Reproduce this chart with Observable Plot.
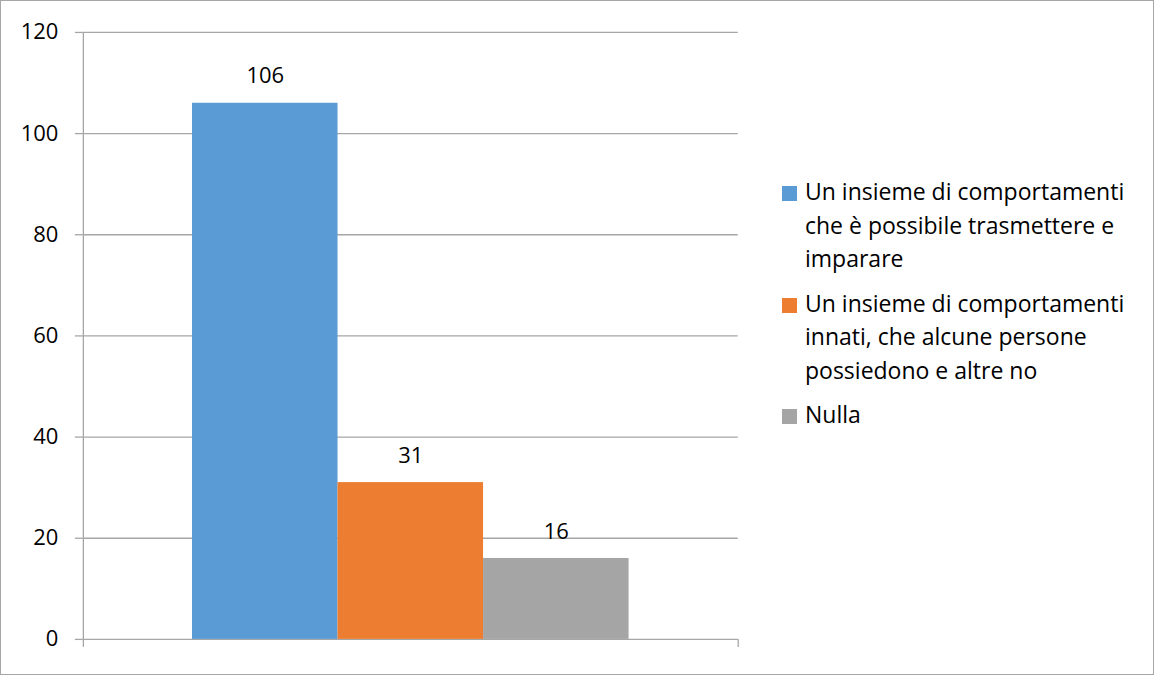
<!DOCTYPE html>
<html>
<head>
<meta charset="utf-8">
<script src="https://cdn.jsdelivr.net/npm/d3@7"></script>
<script src="https://cdn.jsdelivr.net/npm/@observablehq/plot@0.6"></script>
<style>
  body { margin: 0; background: #fff; }
  #chart { position: relative; width: 1152px; height: 673px; border: 1px solid #a6a6a6; overflow: hidden; font-family: "Open Sans", sans-serif; background:#fff; }
  #chart svg { position: absolute; left: -1px; top: -1px; }
  .legend { position: absolute; left: 781px; top: 174px; font-size: 23px; line-height: 33.5px; color: #000; }
  .item { display: flex; align-items: flex-start; margin-bottom: 11px; }
  .sw { width: 15px; height: 15px; margin-top: 11px; margin-right: 8px; flex: none; }
  .lbl { white-space: pre-line; }
</style>
</head>
<body>
<div id="chart"></div>
<script>
const series = [
  "Un insieme di comportamenti\nche è possibile trasmettere e\nimparare",
  "Un insieme di comportamenti\ninnati, che alcune persone\npossiedono e altre no",
  "Nulla"
];
const values = [106, 31, 16];
const colors = ["#5B9BD5", "#ED7D31", "#A5A5A5"];
const yTicks = [0, 20, 40, 60, 80, 100, 120];

const data = series.map((s, i) => ({ series: s, value: values[i], pos: i }));
const axisColor = "#a6a6a6";

const plot = Plot.plot({
  width: 1154,
  height: 675,
  marginLeft: 83,
  marginRight: 415,
  marginTop: 32,
  marginBottom: 35,
  style: { fontFamily: "'Open Sans', sans-serif", fontSize: "22px", color: "#000", background: "transparent" },
  x: { domain: [0, 4.5], axis: null },
  y: { domain: [0, 120], axis: null },
  color: { domain: series, range: colors },
  marks: [
    Plot.gridY(yTicks, { stroke: axisColor, strokeOpacity: 1, strokeWidth: 1.3 }),
    Plot.axisY({ ticks: yTicks, tickSize: 8, tickPadding: 17, stroke: axisColor, strokeWidth: 1.3, fill: "#000", fontSize: 22, label: null }),
    Plot.axisX({ ticks: [0, 4.5], tickSize: 8, tickFormat: () => "", stroke: axisColor, strokeWidth: 1.3, label: null }),
    Plot.ruleX([0], { y1: 0, y2: 120, stroke: axisColor, strokeWidth: 1.3 }),
    Plot.rectY(data, { x1: d => d.pos + 0.75, x2: d => d.pos + 1.75, y: "value", fill: "series" }),
    Plot.text(data, { x: d => d.pos + 1.25, y: "value", text: d => String(d.value), dy: -27, fontSize: 22, fill: "#000" })
  ]
});

const chart = document.getElementById("chart");
chart.appendChild(plot);

const legend = document.createElement("div");
legend.className = "legend";
series.forEach((s, i) => {
  const item = document.createElement("div");
  item.className = "item";
  const sw = document.createElement("div");
  sw.className = "sw";
  sw.style.background = colors[i];
  const lbl = document.createElement("div");
  lbl.className = "lbl";
  lbl.textContent = s;
  item.appendChild(sw);
  item.appendChild(lbl);
  legend.appendChild(item);
});
chart.appendChild(legend);
</script>
</body>
</html>
